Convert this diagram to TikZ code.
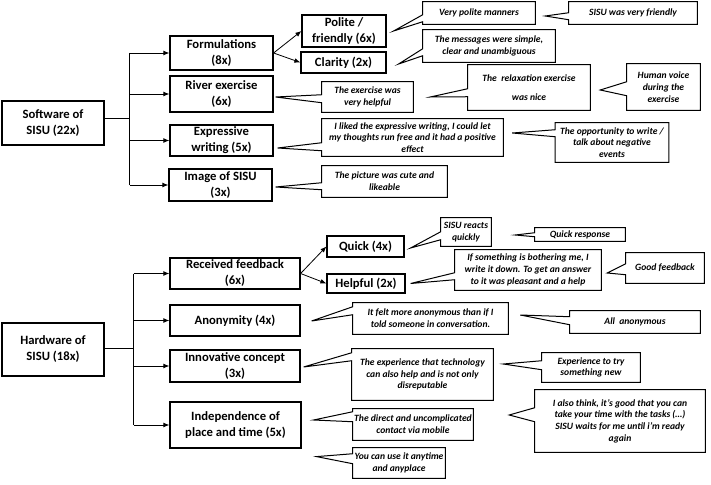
\documentclass[tikz,border=0pt]{standalone}
\usepackage{fontspec}
\setmainfont{Carlito}
\usetikzlibrary{arrows.meta,calc}
\tikzset{
  catbox/.style={draw, line width=0.9pt, fill=white, align=center, inner sep=0pt, font=\fontsize{9.5}{12}\selectfont\bfseries},
  quotebox/.style={fill=white, align=center, inner sep=0pt, font=\fontsize{7.2}{8.8}\selectfont\bfseries\itshape},
  wedge/.style={draw, line width=0.75pt},
  branch/.style={line width=0.6pt},
  arr/.style={line width=0.6pt, -{Latex[length=4.5pt,width=3.6pt]}},
}
\begin{document}
\begin{tikzpicture}[x=0.75pt,y=0.75pt,yscale=-1,xscale=1]
\useasboundingbox (0,0) rectangle (711,485);

%Shape: Rectangle [id:soft] 
\node [catbox, minimum width=76.5pt, minimum height=33pt] (soft) at (53,123) {Software of\\SISU (22x)};
%Shape: Rectangle [id:hard] 
\node [catbox, minimum width=76.5pt, minimum height=39.75pt] (hard) at (53,349.5) {Hardware of\\SISU (18x)};

%Shape: Rectangle [id:form] 
\node [catbox, minimum width=77.25pt, minimum height=25.5pt] (form) at (221.5,53) {Formulations\\(8x)};
%Shape: Rectangle [id:river] 
\node [catbox, minimum width=77.25pt, minimum height=27pt] (river) at (221.5,94) {River exercise\\(6x)};
%Shape: Rectangle [id:expr] 
\node [catbox, minimum width=77.25pt, minimum height=23.25pt] (expr) at (221.5,140.5) {Expressive\\writing (5x)};
%Shape: Rectangle [id:image] 
\node [catbox, minimum width=77.25pt, minimum height=24pt] (image) at (220.5,185) {Image of SISU\\(3x)};

%Shape: Rectangle [id:recv] 
\node [catbox, minimum width=97.5pt, minimum height=23.25pt] (recv) at (235,273.5) {Received feedback\\(6x)};
%Shape: Rectangle [id:anon] 
\node [catbox, minimum width=97.5pt, minimum height=23.25pt] (anon) at (235,320.5) {Anonymity (4x)};
%Shape: Rectangle [id:innov] 
\node [catbox, minimum width=97.5pt, minimum height=24pt] (innov) at (235,366) {Innovative concept\\(3x)};
%Shape: Rectangle [id:indep] 
\node [catbox, minimum width=98.25pt, minimum height=34.5pt] (indep) at (235.5,425) {Independence of\\place and time (5x)};

%Shape: Rectangle [id:polite] 
\node [catbox, minimum width=63pt, minimum height=24pt] (polite) at (344,31) {Polite /\\friendly (6x)};
%Shape: Rectangle [id:clarity] 
\node [catbox, minimum width=63.75pt, minimum height=15.75pt] (clarity) at (343.5,62.5) {Clarity (2x)};
%Shape: Rectangle [id:quick] 
\node [catbox, minimum width=57.75pt, minimum height=15.75pt] (quick) at (365.5,246.5) {Quick (4x)};
%Shape: Rectangle [id:helpful] 
\node [catbox, minimum width=58.5pt, minimum height=14.25pt] (helpful) at (366,283.5) {Helpful (2x)};

%Straight Lines [id:software tree] 
\draw [branch] ($(soft.east)+(0,-5)$) -- ++(25,0) coordinate (sj);
\draw [branch] (sj |- form) -- (sj |- image);
\draw [arr] (sj |- form) -- (form.west);
\draw [arr] (sj |- river) -- (river.west);
\draw [arr] (sj |- expr) -- (expr.west);
\draw [arr] (sj |- image) -- (image.west);
%Straight Lines [id:hardware tree] 
\draw [branch] ($(hard.east)+(0,-1.5)$) -- ++(29,0) coordinate (hj);
\draw [branch] (hj |- recv) -- (hj |- indep);
\draw [arr] (hj |- recv) -- (recv.west);
\draw [arr] (hj |- anon) -- (anon.west);
\draw [arr] (hj |- innov) -- (innov.west);
\draw [arr] (hj |- indep) -- (indep.west);
%Straight Lines [id:third level] 
\draw [arr] (form.east) -- (polite.west);
\draw [arr] (form.east) -- (clarity.west);
\draw [arr] (recv.east) -- (quick.west);
\draw [arr] (recv.east) -- (helpful.west);

% Callouts
\node [quotebox, minimum width=84pt, minimum height=16.5pt] (qpolite) at (479,13) {Very polite manners};
\draw [wedge] (qpolite.north west) -- (qpolite.north east) -- (qpolite.south east) -- (qpolite.south west) -- ($(qpolite.north west)+(0,20)$) -- ($(polite.east)+(7,0)$) -- ($(qpolite.north west)+(0,13)$) -- cycle;
\node [quotebox, minimum width=96pt, minimum height=16.5pt] (qfriendly) at (633,13) {SISU was very friendly};
\draw [wedge] (qfriendly.north west) -- (qfriendly.north east) -- (qfriendly.south east) -- (qfriendly.south west) -- ($(qfriendly.north west)+(0,18)$) -- ($(qpolite.east)+(10,3)$) -- ($(qfriendly.north west)+(0,11)$) -- cycle;
\node [quotebox, minimum width=99pt, minimum height=24pt] (qsimple) at (489,46) {The messages were simple,\\clear and unambiguous};
\draw [wedge] (qsimple.north west) -- (qsimple.north east) -- (qsimple.south east) -- (qsimple.south west) -- ($(qsimple.north west)+(0,26)$) -- ($(clarity.east)+(12,1.5)$) -- ($(qsimple.north west)+(0,19)$) -- cycle;
\node [quotebox, minimum width=68.25pt, minimum height=22.5pt] (qhelpful) at (367.5,97) {The exercise was\\very helpful};
\draw [wedge] (qhelpful.north west) -- (qhelpful.north east) -- (qhelpful.south east) -- (qhelpful.south west) -- ($(qhelpful.north west)+(0,21)$) -- ($(river.east)+(2,3)$) -- ($(qhelpful.north west)+(0,13)$) -- cycle;
\node [quotebox, minimum width=91.5pt, minimum height=33.75pt] (qrelax) at (529,87.5) {The\ \ relaxation exercise\\[5pt]was nice};
\draw [wedge] (qrelax.north west) -- (qrelax.north east) -- (qrelax.south east) -- (qrelax.south west) -- ($(qrelax.north west)+(0,32)$) -- ($(qhelpful.east)+(17,0)$) -- ($(qrelax.north west)+(0,24)$) -- cycle;
\node [quotebox, minimum width=54.75pt, minimum height=34.5pt] (qvoice) at (663.5,87) {Human voice\\during the\\exercise};
\draw [wedge] (qvoice.north west) -- (qvoice.north east) -- (qvoice.south east) -- (qvoice.south west) -- ($(qvoice.north west)+(0,32)$) -- ($(qrelax.east)+(10,2.5)$) -- ($(qvoice.north west)+(0,18)$) -- cycle;
\node [quotebox, minimum width=135.75pt, minimum height=27.75pt] (qwriting) at (412.5,137.5) {I liked the expressive writing, I could let\\my thoughts run free and it had a positive\\effect};
\draw [wedge] (qwriting.north west) -- (qwriting.north east) -- (qwriting.south east) -- (qwriting.south west) -- ($(qwriting.north west)+(0,32)$) -- ($(expr.east)+(4,7.5)$) -- ($(qwriting.north west)+(0,24)$) -- cycle;
\node [quotebox, minimum width=84.75pt, minimum height=29.25pt] (qnegative) at (612,142.5) {The opportunity to write /\\talk about negative\\events};
\draw [wedge] (qnegative.north west) -- (qnegative.north east) -- (qnegative.south east) -- (qnegative.south west) -- ($(qnegative.north west)+(0,14)$) -- ($(qwriting.east)+(9,-4.5)$) -- ($(qnegative.north west)+(0,7)$) -- cycle;
\node [quotebox, minimum width=93.75pt, minimum height=23.25pt] (qcute) at (384.5,181.5) {The picture was cute and\\likeable};
\draw [wedge] (qcute.north west) -- (qcute.north east) -- (qcute.south east) -- (qcute.south west) -- ($(qcute.north west)+(0,24)$) -- ($(image.east)+(3,2)$) -- ($(qcute.north west)+(0,17)$) -- cycle;

\node [quotebox, minimum width=37.5pt, minimum height=21pt] (qreacts) at (466,232) {SISU reacts\\quickly};
\draw [wedge] (qreacts.north west) -- (qreacts.north east) -- (qreacts.south east) -- (qreacts.south west) -- ($(qreacts.north west)+(0,22)$) -- ($(quick.east)+(6,1.5)$) -- ($(qreacts.north west)+(0,14)$) -- cycle;
\node [quotebox, minimum width=67.5pt, minimum height=9.75pt] (qresponse) at (580,234.5) {Quick response};
\draw [wedge] (qresponse.north west) -- (qresponse.north east) -- (qresponse.south east) -- (qresponse.south west) -- ($(qresponse.north west)+(0,9)$) -- ($(qreacts.east)+(24,3)$) -- ($(qresponse.north west)+(0,5)$) -- cycle;
\node [quotebox, minimum width=109.5pt, minimum height=30pt] (qbother) at (528,270) {If something is bothering me, I\\write it down. To get an answer\\to it was pleasant and a help};
\draw [wedge] (qbother.north west) -- (qbother.north east) -- (qbother.south east) -- (qbother.south west) -- ($(qbother.north west)+(0,30)$) -- ($(helpful.east)+(5,0)$) -- ($(qbother.north west)+(0,23)$) -- cycle;
\node [quotebox, minimum width=58.5pt, minimum height=22.5pt] (qgood) at (665,268) {Good feedback};
\draw [wedge] (qgood.north west) -- (qgood.north east) -- (qgood.south east) -- (qgood.south west) -- ($(qgood.north west)+(0,22)$) -- ($(qbother.east)+(6,3)$) -- ($(qgood.north west)+(0,11)$) -- cycle;
\node [quotebox, minimum width=116.25pt, minimum height=23.25pt] (qanon) at (430.5,318.5) {It felt more anonymous than if I\\told someone in conversation.};
\draw [wedge] (qanon.north west) -- (qanon.north east) -- (qanon.south east) -- (qanon.south west) -- ($(qanon.north west)+(0,12)$) -- ($(anon.east)+(11,0.5)$) -- ($(qanon.north west)+(0,4)$) -- cycle;
\node [quotebox, minimum width=97.5pt, minimum height=16.5pt] (qallanon) at (635,322) {All\ \ anonymous};
\draw [wedge] (qallanon.north west) -- (qallanon.north east) -- (qallanon.south east) -- (qallanon.south west) -- ($(qallanon.north west)+(0,14)$) -- ($(qanon.east)+(12,-3.5)$) -- ($(qallanon.north west)+(0,6)$) -- cycle;
\node [quotebox, minimum width=105.75pt, minimum height=38.25pt] (qtech) at (422.5,374.5) {The experience that technology\\can also help and is not only\\disreputable};
\draw [wedge] (qtech.north west) -- (qtech.north east) -- (qtech.south east) -- (qtech.south west) -- ($(qtech.north west)+(0,12)$) -- ($(innov.east)+(3,1)$) -- ($(qtech.north west)+(0,4)$) -- cycle;
\node [quotebox, minimum width=73.5pt, minimum height=21.75pt] (qnew) at (591,367.5) {Experience to try\\something new};
\draw [wedge] (qnew.north west) -- (qnew.north east) -- (qnew.south east) -- (qnew.south west) -- ($(qnew.north west)+(0,17)$) -- ($(qtech.east)+(10,-10.5)$) -- ($(qnew.north west)+(0,8)$) -- cycle;
\node [quotebox, minimum width=90pt, minimum height=23.25pt] (qdirect) at (413,424.5) {The direct and uncomplicated\\contact via mobile};
\draw [wedge] (qdirect.north west) -- (qdirect.north east) -- (qdirect.south east) -- (qdirect.south west) -- ($(qdirect.north west)+(0,13)$) -- ($(indep.east)+(12,-5)$) -- ($(qdirect.north west)+(0,3)$) -- cycle;
\node [quotebox, minimum width=127.5pt, minimum height=46.5pt] (qtime) at (620,421) {I also think, it’s good that you can\\take your time with the tasks (…)\\SISU waits for me until i’m ready\\again};
\draw [wedge] (qtime.north west) -- (qtime.north east) -- (qtime.south east) -- (qtime.south west) -- ($(qtime.north west)+(0,32)$) -- ($(qdirect.east)+(36,-9.5)$) -- ($(qtime.north west)+(0,18)$) -- cycle;
\node [quotebox, minimum width=69pt, minimum height=22.5pt] (qanytime) at (399,463) {You can use it anytime\\and anyplace};
\draw [wedge] (qanytime.north west) -- (qanytime.north east) -- (qanytime.south east) -- (qanytime.south west) -- ($(qanytime.north west)+(0,16)$) -- ($(indep.south east)+(15,8)$) -- ($(qanytime.north west)+(0,6)$) -- cycle;

\end{tikzpicture}
\end{document}
